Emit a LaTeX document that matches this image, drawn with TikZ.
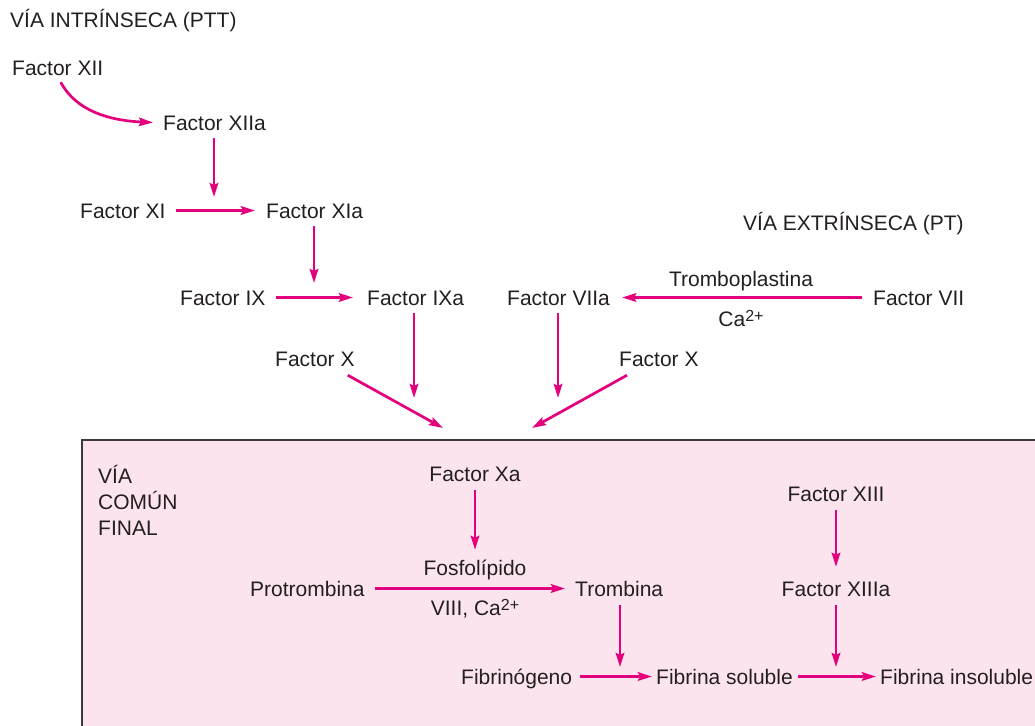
\documentclass[tikz,border=0pt]{standalone}
\usepackage{fontspec}
\setmainfont{Liberation Sans}
\usetikzlibrary{arrows.meta,calc}
\definecolor{ink}{HTML}{231F20}
\definecolor{mag}{HTML}{E4007C}
\definecolor{pinkbg}{HTML}{FCE4EF}
\definecolor{frame}{HTML}{3A3A3A}
% ion charge: raised, slightly smaller than the text
\newcommand{\ioncharge}[1]{\raisebox{5pt}{\fontsize{16}{16}\selectfont #1}}
\begin{document}
\begin{tikzpicture}[x=1pt,y=-1pt,
  lbl/.style={inner sep=0pt, text height=15pt, text depth=0pt, text=ink,
    font=\fontsize{21}{25}\selectfont, anchor=base west},
  clbl/.style={lbl, anchor=base},
  arr/.style={draw=mag, line width=2.7pt,
    -{Stealth[length=14pt,width=8.5pt,inset=2pt]}},
  panel/.style={draw=frame, line width=2pt, fill=pinkbg},
]
\useasboundingbox (0,0) rectangle (1035,725);
\clip (0,0) rectangle (1035,725);

% common pathway panel
\draw[panel] (82,440) rectangle (1045,740);

% intrinsic pathway
\node[lbl] (vint) at (10,28) {VÍA INTRÍNSECA (PTT)};
\node[lbl] (f12)  at (12,75)  {Factor XII};
\node[lbl] (f12a) at (163,130) {Factor XIIa};
\node[lbl] (f11)  at (80,218)  {Factor XI};
\node[lbl] (f11a) at (266,218) {Factor XIa};
\node[lbl] (f9)   at (180,305) {Factor IX};
\node[lbl] (f9a)  at (367,305) {Factor IXa};
\node[lbl] (fxl)  at (275,366) {Factor X};

% extrinsic pathway
\node[lbl] (vext) at (743,230) {VÍA EXTRÍNSECA (PT)};
\node[lbl] (f7a)  at (507,305) {Factor VIIa};
\node[lbl] (f7)   at (873,305) {Factor VII};
\node[clbl] (tpl) at (741,286) {Tromboplastina};
\node[clbl] (ca)  at (741,326) {Ca\ioncharge{2+}};
\node[lbl] (fxr)  at (619,366) {Factor X};

% common pathway
\node[lbl] (vc1) at (98,483) {VÍA};
\node[lbl] (vc2) at (98,509) {COMÚN};
\node[lbl] (vc3) at (98,535) {FINAL};
\node[clbl] (fxa)   at (475,481) {Factor Xa};
\node[clbl] (fosfo) at (475,575) {Fosfolípido};
\node[clbl] (viii)  at (475,615) {VIII, Ca\ioncharge{2+}};
\node[lbl] (prot)   at (250,596) {Protrombina};
\node[lbl] (trom)   at (575,596) {Trombina};
\node[clbl] (f13)   at (836,501) {Factor XIII};
\node[clbl] (f13a)  at (836,596) {Factor XIIIa};
\node[lbl] (fibg)   at (461,684) {Fibrinógeno};
\node[lbl] (fibs)   at (656,684) {Fibrina soluble};
\node[lbl] (fibi)   at (880,684) {Fibrina insoluble};

% free ends of connectors
\coordinate (j1) at (214,197);
\coordinate (j2) at (314,283);
\coordinate (j3) at (414,398);
\coordinate (j4) at (558,398);
\coordinate (j5) at (443,428);
\coordinate (j6) at (532,428);
\coordinate (j7) at (620,667);
\coordinate (j8) at (836,667);

% intrinsic connectors
\draw[arr] ($(f12.south)+(3,7)$) .. controls +(15,28) and +(-45,-2) .. ($(f12a.west)+(-10,0)$);
\draw[arr, shorten <=8pt] (f12a.south -| j1) -- (j1);
\draw[arr, shorten <=10pt, shorten >=11pt] (f11) -- (f11a);
\draw[arr, shorten <=8pt] (f11a.south -| j2) -- (j2);
\draw[arr, shorten <=10pt, shorten >=14pt] (f9) -- (f9a);
\draw[arr, shorten <=8pt] (f9a.south -| j3) -- (j3);
\draw[arr] ($(fxl.south east)+(-7,9)$) -- (j5);

% extrinsic connectors
\draw[arr, shorten <=11pt, shorten >=12pt] (f7) -- (f7a);
\draw[arr, shorten <=8pt] (f7a.south -| j4) -- (j4);
\draw[arr] ($(fxr.south west)+(8,9)$) -- (j6);

% common connectors
\draw[arr, shorten <=9pt, shorten >=10pt] (fxa) -- (fosfo);
\draw[arr, shorten <=10.5pt, shorten >=10pt] (prot) -- (trom);
\draw[arr, shorten <=9pt] (trom.south -| j7) -- (j7);
\draw[arr, shorten <=9pt, shorten >=14pt] (f13) -- (f13a);
\draw[arr, shorten <=9pt] (f13a.south -| j8) -- (j8);
\draw[arr, shorten <=8pt, shorten >=4pt] (fibg) -- (fibs);
\draw[arr, shorten <=5.5pt, shorten >=4pt] (fibs) -- (fibi);
\end{tikzpicture}
\end{document}
